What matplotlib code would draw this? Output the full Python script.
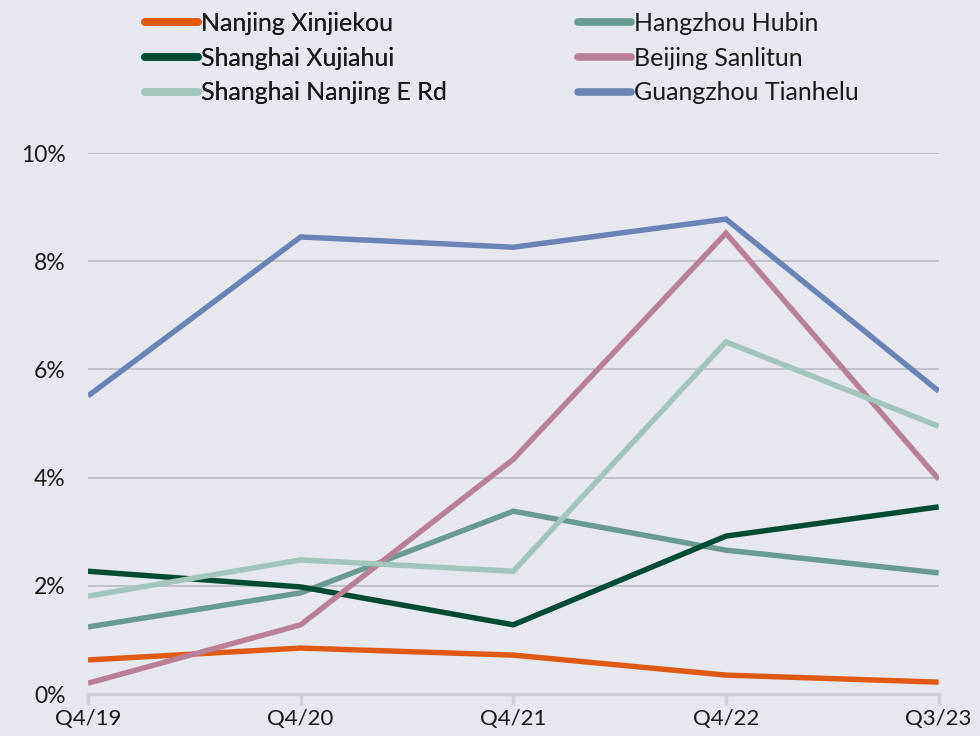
import matplotlib
matplotlib.use("Agg")
import matplotlib.pyplot as plt
from matplotlib.lines import Line2D

categories = ["Q4/19", "Q4/20", "Q4/21", "Q4/22", "Q3/23"]
nanjing_xinjiekou = [0.63, 0.85, 0.72, 0.35, 0.22]
hangzhou_hubin = [1.24, 1.87, 3.38, 2.66, 2.24]
shanghai_xujiahui = [2.27, 1.98, 1.28, 2.92, 3.46]
beijing_sanlitun = [0.20, 1.28, 4.34, 8.52, 3.97]
shanghai_nanjing_e_rd = [1.81, 2.48, 2.27, 6.51, 4.95]
guangzhou_tianhelu = [5.51, 8.45, 8.26, 8.78, 5.60]
y_ticks = [0, 2, 4, 6, 8, 10]

series = [
    ("Nanjing Xinjiekou", nanjing_xinjiekou, "#e05a14"),
    ("Shanghai Xujiahui", shanghai_xujiahui, "#004b32"),
    ("Shanghai Nanjing E Rd", shanghai_nanjing_e_rd, "#a3c5bb"),
    ("Hangzhou Hubin", hangzhou_hubin, "#6b9a93"),
    ("Beijing Sanlitun", beijing_sanlitun, "#b88196"),
    ("Guangzhou Tianhelu", guangzhou_tianhelu, "#6b83b5"),
]
draw_order = ["Nanjing Xinjiekou", "Hangzhou Hubin", "Shanghai Xujiahui",
              "Beijing Sanlitun", "Shanghai Nanjing E Rd", "Guangzhou Tianhelu"]

plt.rcParams['font.family'] = ['Lato', 'DejaVu Sans']
bg = "#e6e7ef"
txt = "#1a1a1a"

fig = plt.figure(figsize=(9.8, 7.36), dpi=100, facecolor=bg)
ax = fig.add_axes([0.0898, 0.057, 0.868, 0.735], facecolor=bg)

x = list(range(len(categories)))
lookup = {n: (v, c) for n, v, c in series}
for n in draw_order:
    v, c = lookup[n]
    ax.plot(x, v, color=c, lw=3.9, solid_capstyle='butt', solid_joinstyle='miter', zorder=3)

ax.set_xlim(0, len(categories) - 1)
ax.set_ylim(0, 10)
ax.set_yticks(y_ticks)
ax.set_yticklabels([f"{t}%" for t in y_ticks], fontsize=16.5, color=txt)
ax.set_xticks(x)
ax.set_xticklabels(categories, fontsize=16, color=txt)
for t in y_ticks[1:]:
    ax.axhline(t, color="#b9bcc5", lw=1.2, zorder=1)
for s in ["top", "right", "left"]:
    ax.spines[s].set_visible(False)
ax.spines["bottom"].set_color("#cdd1d6")
ax.spines["bottom"].set_linewidth(2.5)
ax.tick_params(axis='x', length=8, width=2.5, color="#cdd1d6", pad=3)
ax.tick_params(axis='y', length=0, pad=16)

def make_legend(items, xpos):
    handles = [Line2D([0], [0], color=c, lw=5.5, solid_capstyle='round') for _, _, c in items]
    labels = [n for n, _, _ in items]
    leg = fig.legend(handles, labels, loc='upper left', bbox_to_anchor=(xpos, 1.0 - 12 / 736),
                     frameon=False, fontsize=18, handlelength=2.1, handletextpad=0.15,
                     labelspacing=0.47, borderpad=0, borderaxespad=0, labelcolor=txt)
    return leg

l1 = make_legend(series[:3], 145 / 980)
fig.add_artist(l1)
l2 = make_legend(series[3:], 578 / 980)

fig.savefig("out.png", dpi=100, facecolor=bg)
